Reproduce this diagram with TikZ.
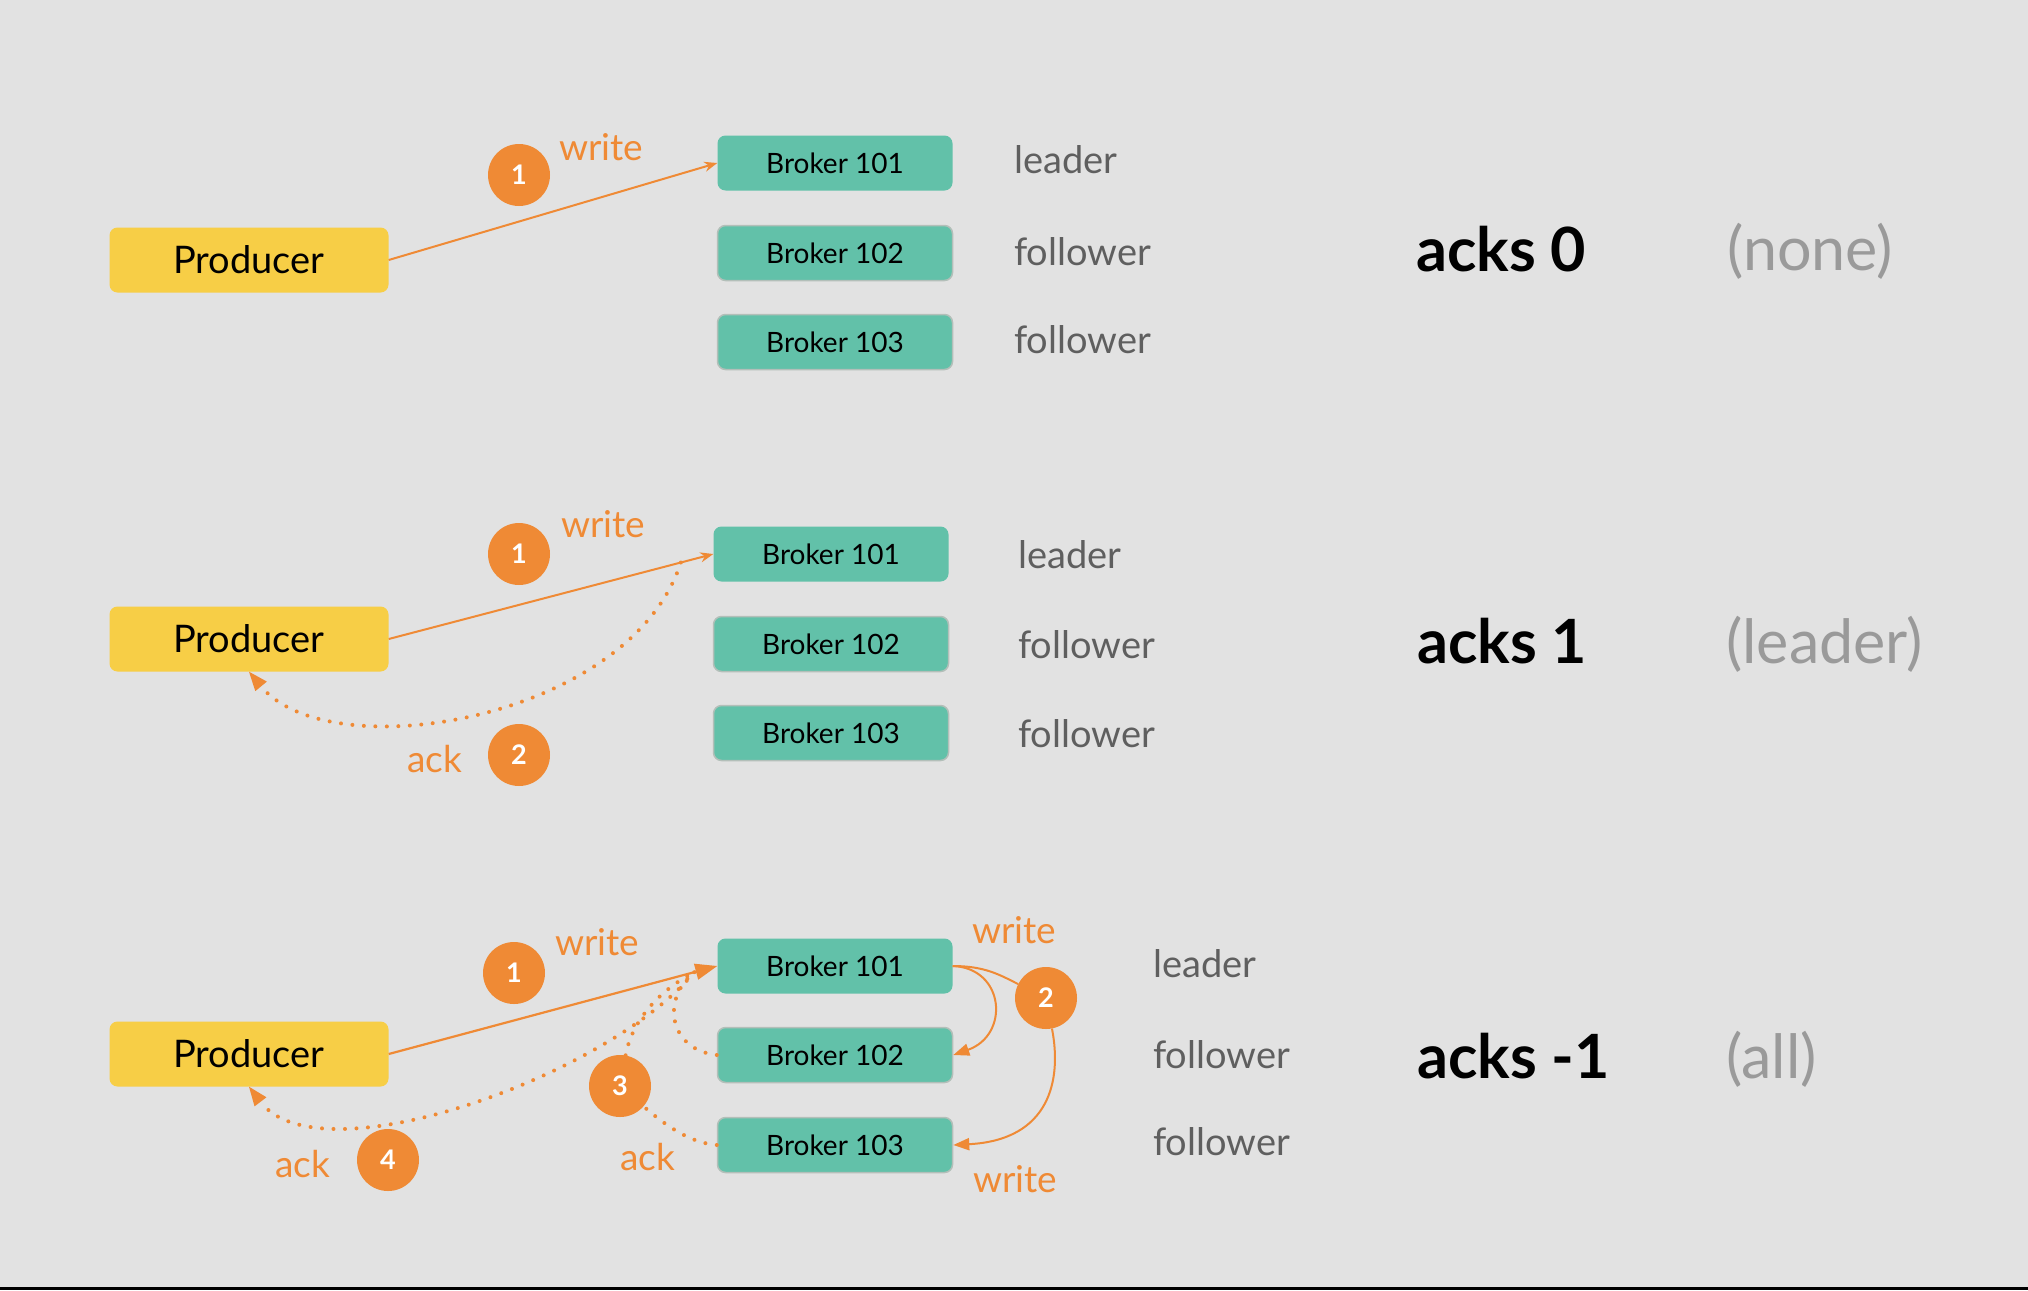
\documentclass[tikz,border=0pt]{standalone}
\usepackage{fontspec}
\setmainfont{Lato}
\usepackage{tikz}
\usetikzlibrary{arrows.meta,calc}
\tikzset{>=Stealth}
\definecolor{bggray}{HTML}{E2E2E2}
\definecolor{brokerteal}{HTML}{62C1A9}
\definecolor{shadegray}{HTML}{B3BFB9}
\definecolor{prodyellow}{HTML}{F7CE46}
\definecolor{kafkaorange}{HTML}{EF8A35}
\definecolor{rolegray}{HTML}{5F5F5F}
\definecolor{modegray}{HTML}{9A9A9A}
\tikzset{
  producer/.style={fill=prodyellow, rounded corners=8pt, minimum width=279pt, minimum height=65pt,
    inner sep=0pt, font=\fontsize{38}{44}\selectfont},
  leaderbox/.style={fill=brokerteal, rounded corners=8pt, minimum width=235pt, minimum height=55pt,
    inner sep=0pt, font=\fontsize{28}{34}\selectfont},
  followerbox/.style={leaderbox, draw=shadegray, line width=1.5pt},
  numdot/.style={circle, fill=kafkaorange, minimum size=62pt, inner sep=0pt, text=white,
    font=\bfseries\fontsize{27}{32}\selectfont},
  steplabel/.style={anchor=base west, inner sep=0pt, text=kafkaorange, font=\fontsize{37}{44}\selectfont},
  rolelabel/.style={anchor=base west, inner sep=0pt, text=rolegray, font=\fontsize{38}{44}\selectfont},
  ackslabel/.style={anchor=base west, inner sep=0pt, font=\bfseries\fontsize{61}{70}\selectfont},
  modelabel/.style={anchor=base west, inner sep=0pt, text=modegray, font=\fontsize{61}{70}\selectfont},
  writeline/.style={draw=kafkaorange, line width=2pt, -{Stealth[length=13pt,width=10pt]}},
  bigwrite/.style={draw=kafkaorange, line width=2.2pt, -{Triangle[length=22pt,width=16pt]}},
  replline/.style={draw=kafkaorange, line width=2pt},
  ackline/.style={draw=kafkaorange, line width=4pt, line cap=round, dash pattern=on 0pt off 11.5pt},
  acktip/.style={-{Triangle[length=19pt,width=15pt,line width=0pt]}}
}
\begin{document}
\begin{tikzpicture}[x=1pt,y=-1pt]
  \fill[bggray] (0,0) rectangle (2028,1290);
  \useasboundingbox (0,0) rectangle (2028,1290);
  \fill[black] (0,1287) rectangle (2028,1290);

  % acks 0
  \node[producer] (p1) at (249,260) {Producer};
  \node[leaderbox] (b11) at (835,163) {Broker 101};
  \node[followerbox] (b12) at (835,253) {Broker 102};
  \node[followerbox] (b13) at (835,342) {Broker 103};
  \node[rolelabel] (r11) at (1014,173) {leader};
  \node[rolelabel] (r12) at (1014,265) {follower};
  \node[rolelabel] (r13) at (1014,353) {follower};
  \draw[writeline] (p1.east) -- (b11.west);
  \node[numdot] (c11) at (519,175) {1};
  \node[steplabel] (w11) at (559,160) {write};
  \node[ackslabel] (a1) at (1416,271) {acks 0};
  \node[modelabel] (m1) at (1727,270) {(none)};

  % acks 1
  \node[producer] (p2) at (249,639) {Producer};
  \node[leaderbox] (b21) at (831,554) {Broker 101};
  \node[followerbox] (b22) at (831,644) {Broker 102};
  \node[followerbox] (b23) at (831,733) {Broker 103};
  \node[rolelabel] (r21) at (1018,568) {leader};
  \node[rolelabel] (r22) at (1018,658) {follower};
  \node[rolelabel] (r23) at (1018,747) {follower};
  \draw[writeline] (p2.east) -- (b21.west);
  \coordinate (k2) at ($(p2.east)!0.9!(b21.west)$);
  \draw[ackline, acktip] (k2) .. controls (630,720) and (330,770) .. (p2.south);
  \node[numdot] (c21) at (519,554) {1};
  \node[numdot] (c22) at (519,755) {2};
  \node[steplabel] (w21) at (561,537) {write};
  \node[steplabel] (k21) at (407,772) {ack};
  \node[ackslabel] (a2) at (1417,663) {acks 1};
  \node[modelabel] (m2) at (1726,663) {(leader)};

  % acks -1
  \node[producer] (p3) at (249,1054) {Producer};
  \node[leaderbox] (b31) at (835,966) {Broker 101};
  \node[followerbox] (b32) at (835,1055) {Broker 102};
  \node[followerbox] (b33) at (835,1145) {Broker 103};
  \node[rolelabel] (r31) at (1153,977) {leader};
  \node[rolelabel] (r32) at (1153,1068) {follower};
  \node[rolelabel] (r33) at (1153,1155) {follower};
  \node[numdot] (c32) at (1046,998) {2};
  \node[numdot] (c33) at (620,1086) {3};
  \draw[bigwrite] (p3.east) -- (b31.west);
  \coordinate (k3) at ($(p3.east)!0.93!(b31.west)$);
  \draw[replline, -{Triangle[length=16pt,width=12pt]}] (b31.east) .. controls (1005,968) and (1010,1035) .. (b32.east);
  \draw[replline] (b31.east) .. controls (985,966) and (1000,975) .. (c32);
  \draw[replline, -{Triangle[length=16pt,width=12pt]}] (c32) .. controls (1062,1080) and (1050,1140) .. (b33.east);
  \draw[ackline] (b32.west) .. controls (670,1050) and (660,1000) .. (k3);
  \draw[ackline] (b33.west) .. controls (690,1143) and (665,1125) .. (c33);
  \draw[ackline] (c33) .. controls (632,1020) and (660,990) .. (k3);
  \draw[ackline, acktip] (k3) .. controls (610,1075) and (320,1180) .. (p3.south);
  \node[numdot] (c31) at (514,973) {1};
  \node[numdot] (c34) at (388,1160) {4};
  \node[steplabel] (w31) at (555,955) {write};
  \node[steplabel] (w32) at (972,943) {write};
  \node[steplabel] (w33) at (973,1192) {write};
  \node[steplabel] (k31) at (275,1177) {ack};
  \node[steplabel] (k32) at (620,1170) {ack};
  \node[ackslabel] (a3) at (1417,1078) {acks -1};
  \node[modelabel] (m3) at (1726,1078) {(all)};
\end{tikzpicture}
\end{document}
